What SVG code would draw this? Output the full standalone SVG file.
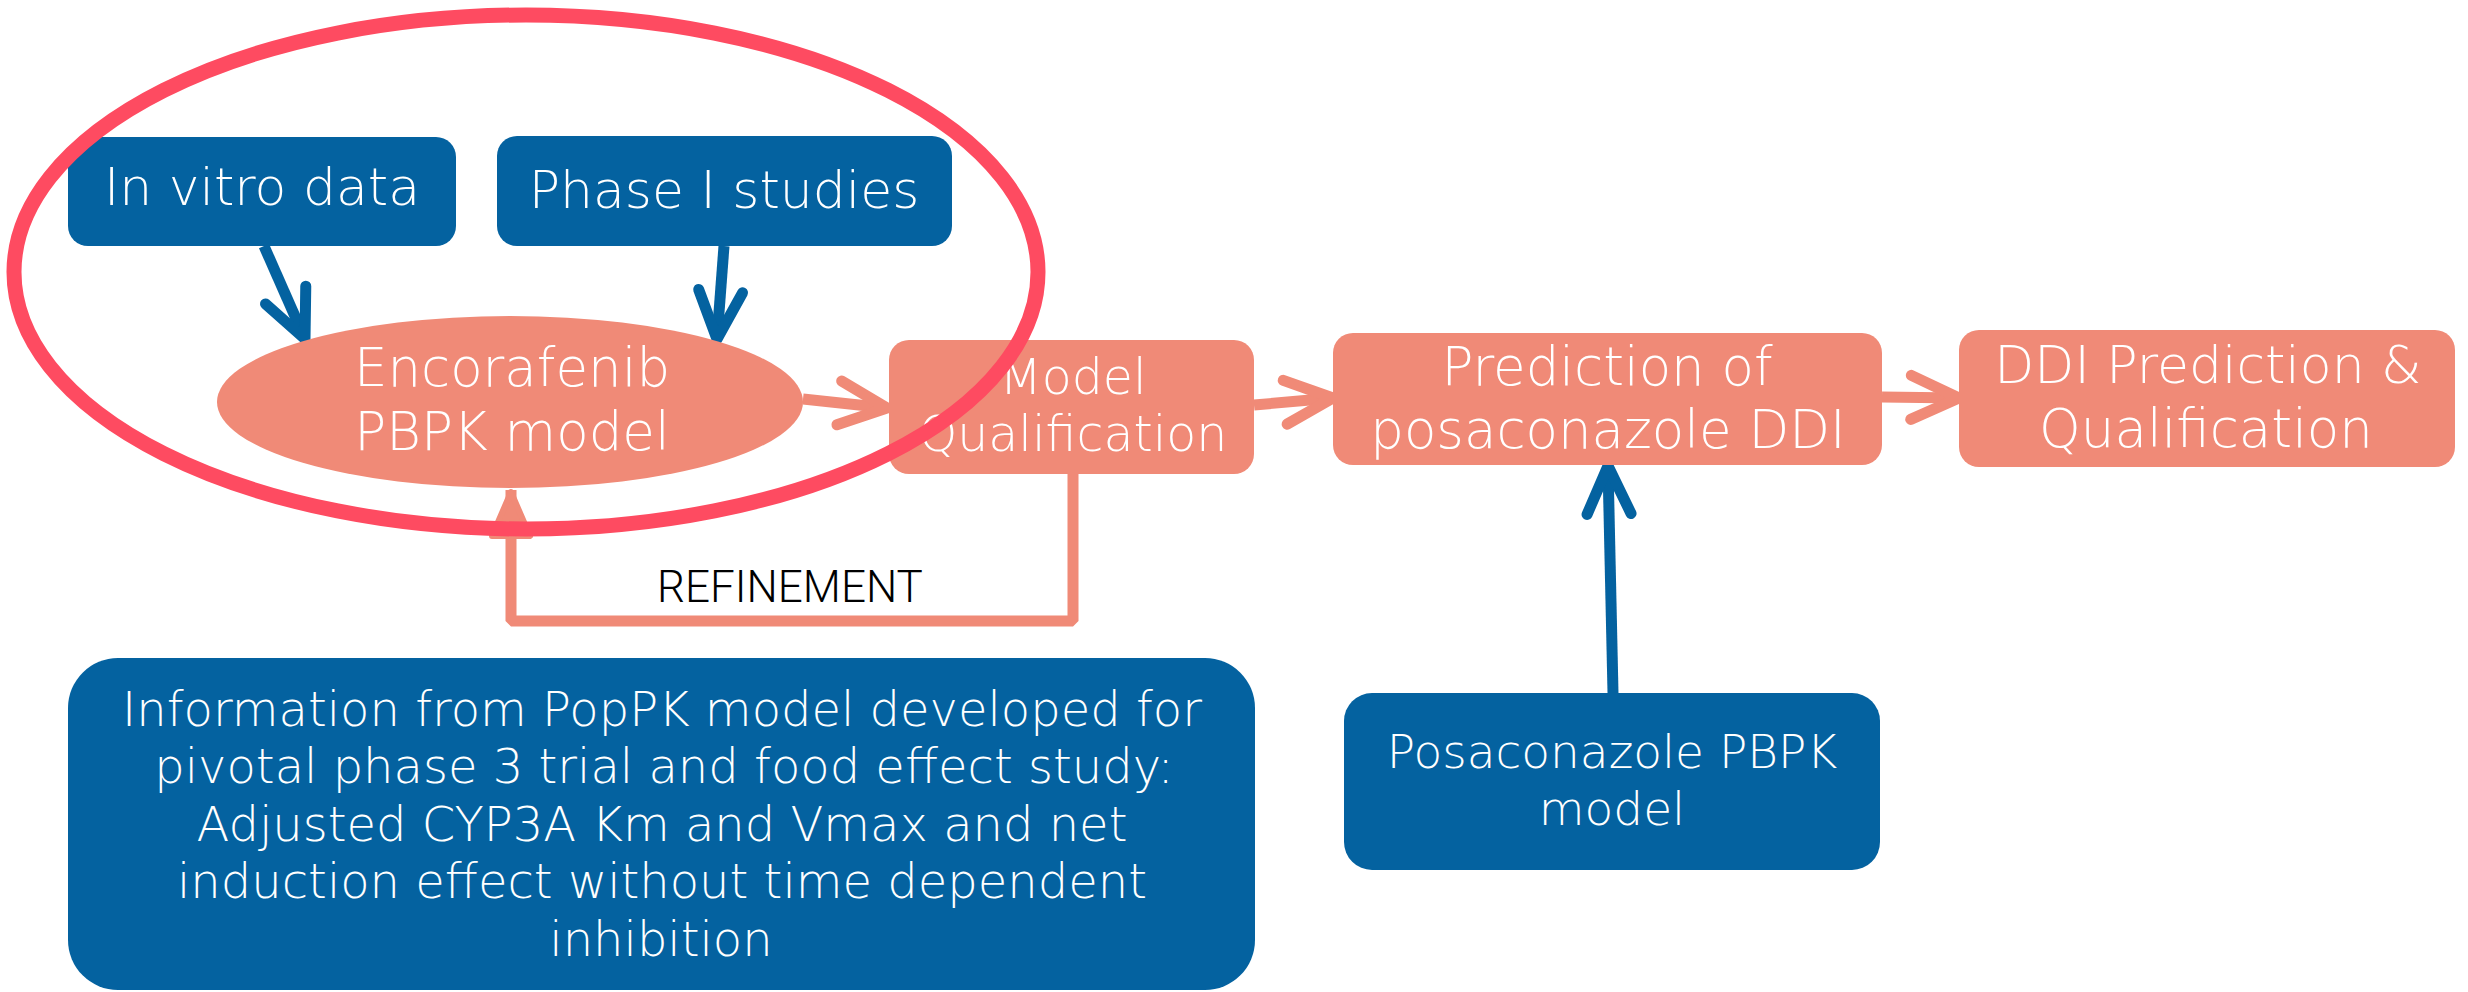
<svg xmlns="http://www.w3.org/2000/svg" width="2468" height="992" viewBox="0 0 2468 992">
<style>
.blue{fill:#0462A0}
.salmon{fill:#F08A77}
.lbl{font-family:"DejaVu Sans","Open Sans",sans-serif;font-weight:300;fill:#FFFFFF;text-anchor:middle}
.big{font-size:52px}
.mid{font-size:47px}
.cb{fill:none;stroke:#0462A0;stroke-width:11}
.cs{fill:none;stroke:#F08A77;stroke-width:11}
.ref{font-family:Roboto,"Liberation Sans",sans-serif;font-weight:300;font-size:44px;fill:#000;text-anchor:middle}
</style>
<defs>
<marker id="ab" viewBox="-60 -30 70 60" markerUnits="userSpaceOnUse" markerWidth="70" markerHeight="60" refX="0" refY="0" orient="auto" overflow="visible">
<path d="M-48,-22 L0,0 L-48,22" fill="none" stroke="#0462A0" stroke-width="11" stroke-linecap="round" stroke-linejoin="round"/>
</marker>
<marker id="as" viewBox="-60 -30 70 60" markerUnits="userSpaceOnUse" markerWidth="70" markerHeight="60" refX="0" refY="0" orient="auto" overflow="visible">
<path d="M-48,-22 L0,0 L-48,22" fill="none" stroke="#F08A77" stroke-width="11" stroke-linecap="round" stroke-linejoin="round"/>
</marker>
<marker id="at" viewBox="-60 -30 70 60" markerUnits="userSpaceOnUse" markerWidth="70" markerHeight="60" refX="0" refY="0" orient="auto" overflow="visible">
<path d="M-46,-19 L-2,0 L-46,19 Z" fill="#F08A77" stroke="#F08A77" stroke-width="6" stroke-linejoin="round"/>
</marker>
</defs>
<rect width="2468" height="992" fill="#FFFFFF"/>

<g id="connectors">
<line class="cb" x1="264" y1="246" x2="305" y2="339" marker-end="url(#ab)"/>
<line class="cb" x1="724" y1="246" x2="717" y2="339" marker-end="url(#ab)"/>
<line class="cs" x1="803" y1="399" x2="887" y2="408" marker-end="url(#as)"/>
<line class="cs" x1="1254" y1="405" x2="1333" y2="398" marker-end="url(#as)"/>
<line class="cs" x1="1882" y1="397" x2="1959" y2="398" marker-end="url(#as)"/>
<line class="cb" x1="1613" y1="693" x2="1608" y2="466" marker-end="url(#ab)"/>
<path class="cs" d="M1073,472 L1073,621 L511,621 L511,490" stroke-linejoin="bevel" marker-end="url(#at)"/>
<text class="ref" x="790" y="602">REFINEMENT</text>
</g>

<g id="invitro">
<rect class="blue" x="68" y="137" width="388" height="109" rx="20"/>
<text class="lbl big" x="262" y="205">In vitro data</text>
</g>

<g id="phase1">
<rect class="blue" x="497" y="136" width="455" height="110" rx="20"/>
<text class="lbl big" x="724" y="208">Phase I studies</text>
</g>

<g id="encorafenib">
<ellipse class="salmon" cx="510" cy="402" rx="293" ry="86"/>
<text class="lbl" x="512" y="386" font-size="53">Encorafenib</text>
<text class="lbl" x="512" y="450" font-size="53">PBPK model</text>
</g>

<g id="qualification">
<rect class="salmon" x="889" y="340" width="365" height="134" rx="20"/>
<text class="lbl" x="1073" y="394" font-size="49">Model</text>
<text class="lbl" x="1073" y="451" font-size="49">Qualification</text>
</g>

<g id="prediction">
<rect class="salmon" x="1333" y="333" width="549" height="132" rx="20"/>
<text class="lbl" x="1607" y="385" font-size="53">Prediction of</text>
<text class="lbl" x="1608" y="448" font-size="53">posaconazole DDI</text>
</g>

<g id="ddi">
<rect class="salmon" x="1959" y="330" width="496" height="137" rx="20"/>
<text class="lbl big" x="2208" y="383">DDI Prediction &amp;</text>
<text class="lbl" x="2206" y="447" font-size="53">Qualification</text>
</g>

<g id="posaconazole">
<rect class="blue" x="1344" y="693" width="536" height="177" rx="28"/>
<text class="lbl mid" x="1612" y="768">Posaconazole PBPK</text>
<text class="lbl mid" x="1612" y="825">model</text>
</g>

<g id="poppk">
<rect class="blue" x="68" y="658" width="1187" height="332" rx="50"/>
<g font-size="48">
<text class="lbl" x="662" y="726">Information from PopPK model developed for</text>
<text class="lbl" x="664" y="783">pivotal phase 3 trial and food effect study:</text>
<text class="lbl" x="662" y="841">Adjusted CYP3A Km and Vmax and net</text>
<text class="lbl" x="662" y="898">induction effect without time dependent</text>
<text class="lbl" x="661" y="956">inhibition</text>
</g>
</g>

<g id="highlight">
<ellipse cx="526" cy="272" rx="512" ry="257" fill="none" stroke="#FE4B61" stroke-width="15"/>
</g>
</svg>
